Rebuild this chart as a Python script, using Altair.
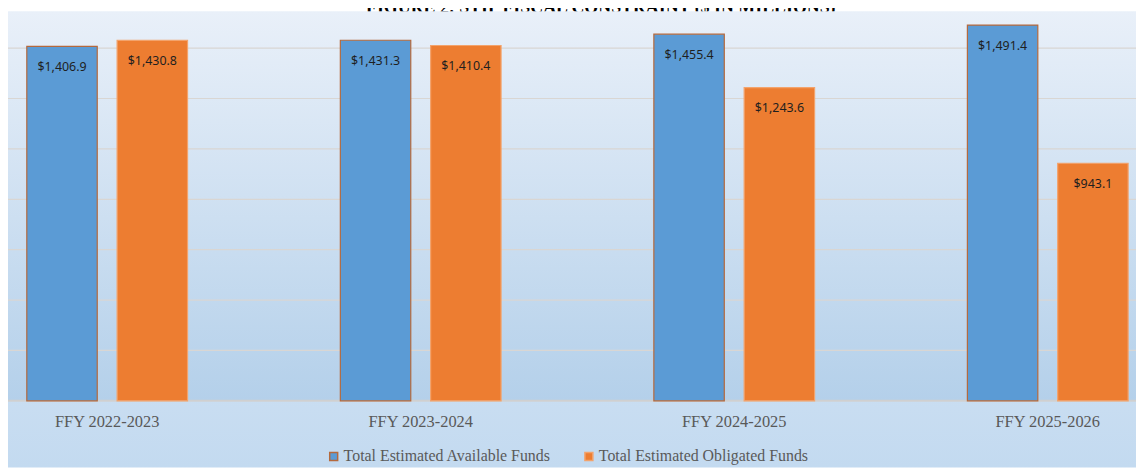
import altair as alt
import pandas as pd

# ---- data ----
periods = ["FFY 2022-2023", "FFY 2023-2024", "FFY 2024-2025", "FFY 2025-2026"]
series_names = ["Total Estimated Available Funds", "Total Estimated Obligated Funds"]
available = [1406.9, 1431.3, 1455.4, 1491.4]
obligated = [1430.8, 1410.4, 1243.6, 943.1]
grid_values = [200, 400, 600, 800, 1000, 1200, 1400]
title_text = "FIGURE 2:  STIP FISCAL CONSTRAINT ($ IN MILLIONS)"

rows = []
for p, a, o in zip(periods, available, obligated):
    rows.append({"period": p, "series": series_names[0], "value": a})
    rows.append({"period": p, "series": series_names[1], "value": o})
df = pd.DataFrame(rows)

W, H = 1136, 392
BLUE, ORANGE = "#5b9bd5", "#ed7d31"

y_scale = alt.Scale(domain=[0, 1545], nice=False, zero=True)
x_scale = alt.Scale(domain=periods, range=[-58, 1205], paddingInner=0, paddingOuter=0)
off_scale = alt.Scale(domain=series_names, paddingInner=0.22, paddingOuter=0.846)

x_axis = alt.Axis(title=None, ticks=False, domain=False, grid=False, labelAngle=0,
                  labelFont="Liberation Serif", labelFontSize=16.5, labelColor="#595959",
                  labelBaseline="alphabetic", labelPadding=26, zindex=1)

legend = alt.Legend(title=None, orient="none", legendX=320, legendY=440,
                    direction="horizontal", symbolType="square", symbolSize=64,
                    symbolStrokeWidth=1.5, labelFont="Liberation Serif",
                    labelFontSize=16, labelColor="#595959", labelOffset=2,
                    columnPadding=30, labelLimit=400, zindex=1)

one = alt.Data(values=[{"k": 1}])

title_layer = alt.Chart(one).mark_text(
    text=title_text, font="Liberation Serif", fontSize=18, fontWeight="bold",
    align="center", baseline="alphabetic", color="#000000"
).encode(x=alt.value(597), y=alt.value(1))

chart_bg = alt.Chart(one).mark_rect(
    fill=alt.LinearGradient(gradient="linear", x1=0, y1=0, x2=0, y2=1,
                            stops=[alt.GradientStop(color="#eaf1f9", offset=0),
                                   alt.GradientStop(color="#c3daf0", offset=1)])
).encode(x=alt.value(0), x2=alt.value(W), y=alt.value(0), y2=alt.value(459))

plot_bg = alt.Chart(one).mark_rect(
    fill=alt.LinearGradient(gradient="linear", x1=0, y1=0, x2=0, y2=1,
                            stops=[alt.GradientStop(color="#e9f0f9", offset=0),
                                   alt.GradientStop(color="#b4d0ea", offset=1)])
).encode(x=alt.value(0), x2=alt.value(W), y=alt.value(0), y2=alt.value(H))

grid = alt.Chart(alt.Data(values=[{"g": v} for v in grid_values])).mark_rule(
    color="#d9d6d3", strokeWidth=1.2
).encode(y=alt.Y("g:Q", scale=y_scale, axis=None), x=alt.value(0), x2=alt.value(W))

baseline = alt.Chart(alt.Data(values=[{"g": 0}])).mark_rule(
    color="#d0d0d0", strokeWidth=2
).encode(y=alt.Y("g:Q", scale=y_scale, axis=None), x=alt.value(0), x2=alt.value(W))

bars = alt.Chart(df).mark_bar(strokeWidth=1.2).encode(
    x=alt.X("period:N", scale=x_scale, axis=x_axis, sort=periods),
    xOffset=alt.XOffset("series:N", scale=off_scale, sort=series_names),
    y=alt.Y("value:Q", scale=y_scale, axis=None),
    color=alt.Color("series:N", scale=alt.Scale(domain=series_names, range=[BLUE, ORANGE]),
                    legend=legend, sort=series_names),
    stroke=alt.Stroke("series:N", scale=alt.Scale(domain=series_names, range=["#b5693c", "#f3a36c"]),
                      legend=legend, sort=series_names),
)

labels = alt.Chart(df).mark_text(
    dy=21, baseline="middle", align="center", font="Noto Sans", fontSize=12.5, color="#1f1f1f"
).encode(
    x=alt.X("period:N", scale=x_scale, axis=x_axis, sort=periods),
    xOffset=alt.XOffset("series:N", scale=off_scale, sort=series_names),
    y=alt.Y("value:Q", scale=y_scale, axis=None),
    text=alt.Text("value:Q", format="$,.1f"),
)

chart = alt.layer(title_layer, chart_bg, plot_bg, grid, baseline, bars, labels).properties(
    width=W, height=H,
    autosize=alt.AutoSizeParams(type="none"),
    padding={"left": 0, "top": 2, "right": 0, "bottom": 67},
    background="white",
).configure_view(stroke=None)

chart.save("out.html", embed_options={"renderer": "svg", "actions": False})
